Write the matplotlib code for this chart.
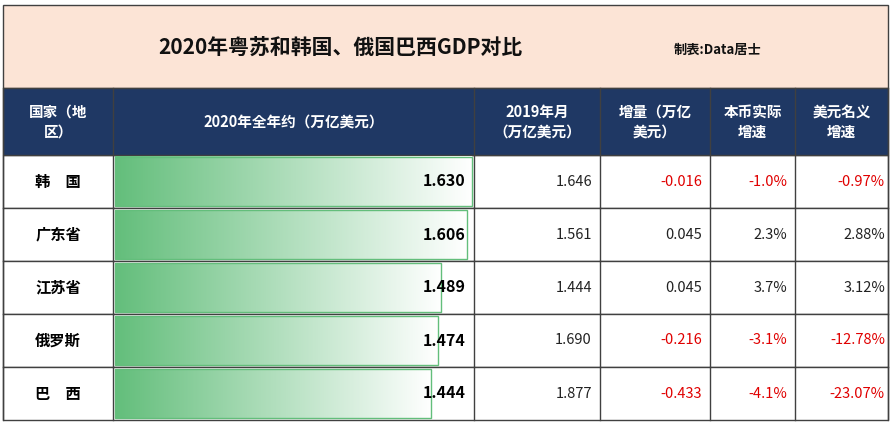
import matplotlib
matplotlib.use("Agg")
import matplotlib.pyplot as plt
from matplotlib.patches import Rectangle
from matplotlib import font_manager as fm
from matplotlib.colors import LinearSegmentedColormap
import numpy as np

regions = ["韩　国", "广东省", "江苏省", "俄罗斯", "巴　西"]
gdp2020 = [1.630, 1.606, 1.489, 1.474, 1.444]
gdp2019 = [1.646, 1.561, 1.444, 1.690, 1.877]
delta = [-0.016, 0.045, 0.045, -0.216, -0.433]
real_growth = ["-1.0%", "2.3%", "3.7%", "-3.1%", "-4.1%"]
usd_growth = ["-0.97%", "2.88%", "3.12%", "-12.78%", "-23.07%"]
headers = ["国家（地\n区）", "2020年全年约（万亿美元）", "2019年月\n（万亿美元）", "增量（万亿\n美元）", "本币实际\n增速", "美元名义\n增速"]
title = "2020年粤苏和韩国、俄国巴西GDP对比"
subtitle = "制表:Data居士"

cjk = [f.name for f in fm.fontManager.ttflist if "CJK" in f.name]
pref = [n for n in ["Noto Sans CJK SC", "Noto Sans CJK JP"] if n in cjk] + cjk
plt.rcParams["font.family"] = "sans-serif"
plt.rcParams["font.sans-serif"] = pref[:1] + ["DejaVu Sans"]

fig = plt.figure(figsize=(8.9, 4.43), dpi=100)
ax = fig.add_axes([0, 0, 1, 1])
ax.set_xlim(0, 890); ax.set_ylim(443, 0); ax.axis("off")

cols = [3, 113, 474, 600, 710, 795, 888]
title_top, head_top, body_top, rh = 5, 88, 155, 53

ax.add_patch(Rectangle((3, title_top), 885, head_top - title_top, facecolor="#fce4d6", edgecolor="#404040", lw=1))
ax.text(340, 48, title, ha="center", va="center", fontsize=15, fontweight="bold", color="#111111")
ax.text(718, 50, subtitle, ha="center", va="center", fontsize=9.5, fontweight="bold", color="#111111")

ax.add_patch(Rectangle((3, head_top), 885, body_top - head_top, facecolor="#1f3864", edgecolor="#404040", lw=1))
for i, h in enumerate(headers):
    ax.text((cols[i] + cols[i+1]) / 2, (head_top + body_top) / 2, h, ha="center", va="center",
            fontsize=10.5, fontweight="bold", color="white", linespacing=1.3)

grad = np.linspace(0, 1, 256).reshape(1, -1)
cmap = LinearSegmentedColormap.from_list("g", ["#63be7b", "#ffffff"])
scale = (cols[2] - cols[1] - 4) / max(gdp2020)

for r in range(len(regions)):
    y0 = body_top + r * rh
    ax.add_patch(Rectangle((3, y0), 885, rh, facecolor="white", edgecolor="#404040", lw=1, zorder=0))
    for x in cols:
        ax.plot([x, x], [head_top if r == 0 else y0, y0 + rh], color="#404040", lw=1)
    red = delta[r] < 0
    cy = y0 + rh / 2
    ax.text((cols[0] + cols[1]) / 2, cy, regions[r], ha="center", va="center", fontsize=11, fontweight="bold")
    bx0, bw = cols[1] + 2, gdp2020[r] * scale
    ax.imshow(grad, cmap=cmap, extent=(bx0, bx0 + bw, y0 + rh - 2, y0 + 2), aspect="auto", zorder=1)
    ax.add_patch(Rectangle((bx0, y0 + 2), bw, rh - 4, fill=False, edgecolor="#63be7b", lw=1, zorder=2))
    ax.text(cols[2] - 8, cy, f"{gdp2020[r]:.3f}", ha="right", va="center", fontsize=11.5, fontweight="bold", zorder=3)
    c = "#e00000" if red else "#222222"
    ax.text(cols[3] - 8, cy, f"{gdp2019[r]:.3f}", ha="right", va="center", fontsize=10.5, color="#222222")
    ax.text(cols[4] - 8, cy, f"{delta[r]:.3f}", ha="right", va="center", fontsize=10.5, color=c)
    ax.text(cols[5] - 8, cy, real_growth[r], ha="right", va="center", fontsize=10.5, color=c)
    ax.text(cols[6] - 3, cy, usd_growth[r], ha="right", va="center", fontsize=10.5, color=c)

ax.set_xlim(0, 890); ax.set_ylim(443, 0)
fig.savefig("out.png", dpi=100)
